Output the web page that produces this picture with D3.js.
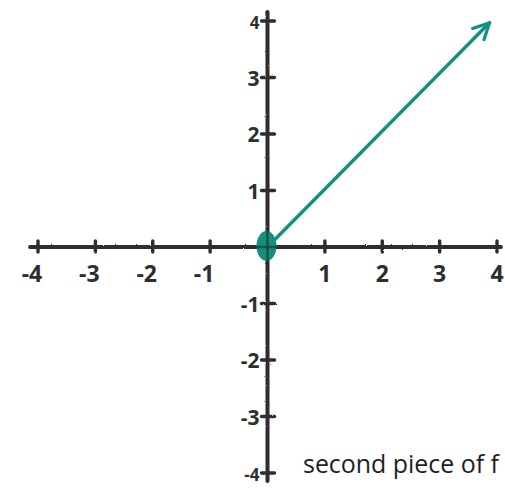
<!DOCTYPE html>
<html>
<head>
<meta charset="utf-8">
<script src="https://cdn.jsdelivr.net/npm/d3@7/dist/d3.min.js"></script>
<style>
  html, body { margin: 0; padding: 0; background: #fff; }
  svg { display: block; }
</style>
</head>
<body>
<script>
// Axis ticks and their labels
const xTicks = [-4, -3, -2, -1, 1, 2, 3, 4];
const yTicks = [-4, -3, -2, -1, 1, 2, 3, 4];
const xTickLabels = ["-4", "-3", "-2", "-1", "1", "2", "3", "4"];
const yTickLabels = ["-4", "-3", "-2", "-1", "1", "2", "3", "4"];

// The ray: closed point at the origin, heading up and to the right
const rayX = [0, 3.87];
const rayY = [0, 3.97];
const startPoint = [0, 0];

const caption = "second piece of f";

const W = 505, H = 490;
const ink = "#2e2e2e";
const teal = "#12917f";

const svg = d3.select("body").append("svg")
  .attr("width", W).attr("height", H);

// slight roughness for a pen-drawn look
const defs = svg.append("defs");
const f = defs.append("filter").attr("id", "rough")
  .attr("x", "-5%").attr("y", "-5%").attr("width", "110%").attr("height", "110%");
f.append("feTurbulence").attr("type", "fractalNoise")
  .attr("baseFrequency", 0.9).attr("numOctaves", 2).attr("result", "n");
f.append("feDisplacementMap").attr("in", "SourceGraphic").attr("in2", "n")
  .attr("scale", 1.8);

defs.append("marker")
  .attr("id", "arrow")
  .attr("viewBox", "0 0 20 20")
  .attr("refX", 18).attr("refY", 10)
  .attr("markerWidth", 20).attr("markerHeight", 20)
  .attr("markerUnits", "userSpaceOnUse")
  .attr("orient", "auto")
  .append("path")
  .attr("d", "M2,2 L18,10 L2,18")
  .attr("fill", "none")
  .attr("stroke", teal)
  .attr("stroke-width", 3.2)
  .attr("stroke-linecap", "round")
  .attr("stroke-linejoin", "round");

const x = d3.scaleLinear().domain([-4, 4]).range([38, 497]);
const y = d3.scaleLinear().domain([-4, 4]).range([473, 21]);

const g = svg.append("g").attr("filter", "url(#rough)");

// axes
g.append("line")
  .attr("x1", x(-4) - 8).attr("x2", x(4) + 4)
  .attr("y1", y(0)).attr("y2", y(0))
  .attr("stroke", ink).attr("stroke-width", 3.8).attr("stroke-linecap", "round");
g.append("line")
  .attr("x1", x(0)).attr("x2", x(0))
  .attr("y1", y(4) - 9).attr("y2", y(-4) + 8)
  .attr("stroke", ink).attr("stroke-width", 4).attr("stroke-linecap", "round");

// tick marks
g.selectAll(".xt").data(xTicks).enter().append("line")
  .attr("x1", d => x(d)).attr("x2", d => x(d))
  .attr("y1", y(0) - 6).attr("y2", y(0) + 5)
  .attr("stroke", ink).attr("stroke-width", 3.4).attr("stroke-linecap", "round");
g.selectAll(".yt").data(yTicks).enter().append("line")
  .attr("x1", x(0) - 6).attr("x2", x(0) + 7)
  .attr("y1", d => y(d)).attr("y2", d => y(d))
  .attr("stroke", ink).attr("stroke-width", 3.4).attr("stroke-linecap", "round");

// tick labels
const labelFont = "'Open Sans', 'DejaVu Sans', sans-serif";
svg.selectAll(".xl").data(xTicks).enter().append("text")
  .attr("x", (d) => x(d) - (d < 0 ? 6 : 0))
  .attr("y", y(0) + 35)
  .attr("text-anchor", "middle")
  .attr("font-family", labelFont)
  .attr("font-weight", 700)
  .attr("font-size", 23)
  .attr("fill", ink)
  .text((d, i) => xTickLabels[i]);

svg.selectAll(".yl").data(yTicks).enter().append("text")
  .attr("x", x(0) - 8)
  .attr("y", d => y(d) + 8)
  .attr("text-anchor", "end")
  .attr("font-family", labelFont)
  .attr("font-weight", 700)
  .attr("font-size", d => d === 4 || d === -4 ? 17 : 21)
  .attr("fill", ink)
  .text((d, i) => yTickLabels[i]);

// the ray with its arrowhead
const line = d3.line().x(d => x(d[0])).y(d => y(d[1]));
svg.append("path")
  .datum(rayX.map((v, i) => [v, rayY[i]]))
  .attr("d", line)
  .attr("fill", "none")
  .attr("stroke", teal)
  .attr("stroke-width", 3.4)
  .attr("stroke-linecap", "round")
  .attr("marker-end", "url(#arrow)");

// closed endpoint at the origin
svg.append("ellipse")
  .attr("cx", x(startPoint[0]) - 1)
  .attr("cy", y(startPoint[1]) - 1)
  .attr("rx", 10).attr("ry", 15)
  .attr("fill", teal);
// axis lines show through the dot
svg.append("line")
  .attr("x1", x(0) - 11).attr("x2", x(0) + 10)
  .attr("y1", y(0)).attr("y2", y(0))
  .attr("stroke", "#1f3f3a").attr("stroke-width", 2.5).attr("opacity", 0.8);
svg.append("line")
  .attr("x1", x(0)).attr("x2", x(0))
  .attr("y1", y(0) - 16).attr("y2", y(0) + 15)
  .attr("stroke", "#1f3f3a").attr("stroke-width", 2.5).attr("opacity", 0.8);

// caption
svg.append("text")
  .attr("x", 303)
  .attr("y", 473)
  .attr("font-family", "'Open Sans', 'DejaVu Sans', sans-serif")
  .attr("font-size", 25)
  .attr("fill", "#1e1e1e")
  .attr("textLength", 196)
  .attr("lengthAdjust", "spacingAndGlyphs")
  .text(caption);
</script>
</body>
</html>
